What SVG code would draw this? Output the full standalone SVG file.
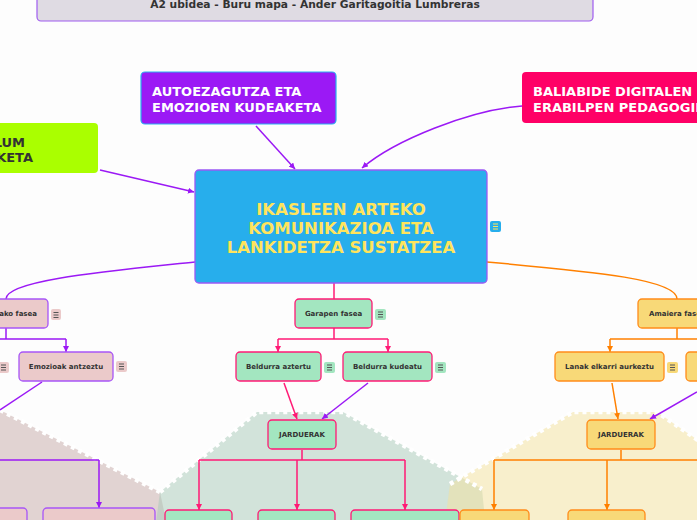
<svg xmlns="http://www.w3.org/2000/svg" width="697" height="520" viewBox="0 0 697 520">
<defs>
<style>
.t{font-family:"DejaVu Sans",Verdana,sans-serif;font-weight:bold;}
.s{font-size:7px;fill:#333;text-anchor:middle;dominant-baseline:central;}
.big{font-size:13px;fill:#fff;}
.pk{fill:#ebcaca;stroke:#a855f7;stroke-width:1.3;}
.gr{fill:#a3e6c0;stroke:#ff1a75;stroke-width:1.3;}
.yl{fill:#f8d978;stroke:#ff8c1a;stroke-width:1.3;}
.ln{fill:none;stroke-width:1.5;}
.pu{stroke:#9b19f5;}
.pi{stroke:#ff1a75;}
.or{stroke:#ff8000;}
.ic line{stroke:#555;stroke-width:1;}
.dash{fill:none;stroke:#fff;stroke-width:4.5;stroke-dasharray:4 4;}
</style>
<marker id="ap" viewBox="0 0 6 6" refX="6" refY="3" markerWidth="6" markerHeight="6" markerUnits="userSpaceOnUse" orient="auto"><path d="M0,0 L6,3 L0,6 z" fill="#9b19f5"/></marker>
<marker id="ai" viewBox="0 0 6 6" refX="6" refY="3" markerWidth="6" markerHeight="6" markerUnits="userSpaceOnUse" orient="auto"><path d="M0,0 L6,3 L0,6 z" fill="#ff1a75"/></marker>
<marker id="ao" viewBox="0 0 6 6" refX="6" refY="3" markerWidth="6" markerHeight="6" markerUnits="userSpaceOnUse" orient="auto"><path d="M0,0 L6,3 L0,6 z" fill="#ff8000"/></marker>
<g id="icon"><line x1="2.5" y1="3" x2="7.5" y2="3"/><line x1="2.5" y1="5.5" x2="7.5" y2="5.5"/><line x1="2.5" y1="8" x2="7.5" y2="8"/></g>
</defs>
<rect width="697" height="520" fill="#fdfdfd"/>

<g id="regions">
<path d="M-20,400 L0,410 L160,492 L168,530 L-20,530 Z" fill="#c5a9a7" fill-opacity="0.5"/>
<path d="M257,412 L343,412 L482,489 L486,530 L155,530 L160,492 Z" fill="#a7c9b7" fill-opacity="0.5"/>
<path d="M573,412 L657,412 L705,445 L705,530 L444,530 L450,484 Z" fill="#f3e19b" fill-opacity="0.5"/>
<path class="dash" d="M0,410 L160,492"/>
<path class="dash" d="M160,492 L257,412 L343,412 L482,489"/>
<path class="dash" d="M450,484 L573,412 L657,412 L705,445"/>
</g>

<g id="title">
<rect x="37" y="-12" width="556" height="33" rx="4" fill="#dfdbe3" stroke="#a05cf0" stroke-width="1.2"/>
<text class="t" x="315" y="8" font-size="10.7" fill="#333" text-anchor="middle">A2 ubidea - Buru mapa - Ander Garitagoitia Lumbreras</text>
</g>

<g id="connectors">
<path class="ln pu" d="M256,126 L295,169" marker-end="url(#ap)"/>
<path class="ln pu" d="M522,106 C470,110 395,140 362,168" marker-end="url(#ap)"/>
<path class="ln pu" d="M100,170 L194,192" marker-end="url(#ap)"/>
<path class="ln pu" d="M195,262 C110,271 6,280 6,299"/>
<path class="ln pi" d="M334,283 L334,299"/>
<path class="ln or" d="M487,262 C600,272 677,280 677,299"/>
<path class="ln pu" d="M6,328 L6,339 M0,339 L66,339"/>
<path class="ln pu" d="M66,339 L66,352" marker-end="url(#ap)"/>
<path class="ln pi" d="M334,328 L334,339 M278,339 L388,339"/>
<path class="ln pi" d="M278,339 L278,352" marker-end="url(#ai)"/>
<path class="ln pi" d="M388,339 L388,352" marker-end="url(#ai)"/>
<path class="ln or" d="M677,328 L677,339 M610,339 L697,339"/>
<path class="ln or" d="M610,339 L610,352" marker-end="url(#ao)"/>
<path class="ln pu" d="M42,382 L0,410"/>
<path class="ln pi" d="M284,383 L297,419" marker-end="url(#ai)"/>
<path class="ln pu" d="M368,383 L322,419" marker-end="url(#ap)"/>
<path class="ln or" d="M612,383 L618,419" marker-end="url(#ao)"/>
<path class="ln pu" d="M697,392 L650,419" marker-end="url(#ap)"/>
<path class="ln pu" d="M0,460 L99,460"/>
<path class="ln pu" d="M99,460 L99,508" marker-end="url(#ap)"/>
<path class="ln pi" d="M302,450 L302,460 M199,460 L405,460"/>
<path class="ln pi" d="M199,460 L199,510" marker-end="url(#ai)"/>
<path class="ln pi" d="M297,460 L297,510" marker-end="url(#ai)"/>
<path class="ln pi" d="M405,460 L405,510" marker-end="url(#ai)"/>
<path class="ln or" d="M621,450 L621,460 M494,460 L697,460"/>
<path class="ln or" d="M494,460 L494,510" marker-end="url(#ao)"/>
<path class="ln or" d="M607,460 L607,510" marker-end="url(#ao)"/>
</g>

<g id="autoezagutza">
<rect x="141" y="72" width="195" height="52" rx="4" fill="#9b19f5" stroke="#2ab0f0" stroke-width="1.2"/>
<text class="t big" x="152" y="96">AUTOEZAGUTZA ETA</text>
<text class="t big" x="152" y="112">EMOZIOEN KUDEAKETA</text>
</g>
<g id="baliabide">
<rect x="522" y="72" width="190" height="51" rx="4" fill="#ff0066"/>
<text class="t big" x="533" y="96">BALIABIDE DIGITALEN</text>
<text class="t big" x="533" y="112">ERABILPEN PEDAGOGIK</text>
</g>
<g id="curriculum">
<rect x="-40" y="123" width="138" height="50" rx="4" fill="#aaff00"/>
<text class="t" x="25" y="147" font-size="13" fill="#333" text-anchor="end">LUM</text>
<text class="t" x="33" y="162" font-size="13" fill="#333" text-anchor="end">KETA</text>
</g>
<g id="central">
<rect x="195" y="170" width="292" height="113" rx="4" fill="#27aeec" stroke="#9b59f5" stroke-width="1.3"/>
<g class="t" font-size="16.5" fill="#ffe45c" text-anchor="middle">
<text x="341" y="215">IKASLEEN ARTEKO</text>
<text x="341" y="234">KOMUNIKAZIOA ETA</text>
<text x="341" y="253">LANKIDETZA SUSTATZEA</text>
</g>
<rect x="490" y="221" width="11" height="11" rx="2" fill="#27aeec"/>
<use href="#icon" x="490.5" y="221" class="ic" style="stroke:#ffe45c"/>
</g>

<g id="hasiera">
<rect class="pk" x="-20" y="299" width="68" height="29" rx="4"/>
<text class="t s" x="37" y="314" style="text-anchor:end">ako fasea</text>
<rect x="51" y="309" width="10" height="11" rx="2" fill="#ebcaca"/>
<use href="#icon" x="51" y="309.5" stroke="#555"/>
</g>
<g id="left-child">
<rect x="-2" y="362" width="11" height="11" rx="2" fill="#ebcaca"/>
<use href="#icon" x="-1.5" y="362" stroke="#555"/>
</g>
<g id="emozioak">
<rect class="pk" x="19" y="352" width="94" height="29" rx="4"/>
<text class="t s" x="66" y="367">Emozioak antzeztu</text>
<rect x="116" y="361" width="11" height="11" rx="2" fill="#ebcaca"/>
<use href="#icon" x="116.5" y="361" stroke="#555"/>
</g>
<g id="garapen">
<rect class="gr" x="295" y="299" width="77" height="29" rx="4"/>
<text class="t s" x="333.5" y="314">Garapen fasea</text>
<rect x="375" y="309" width="11" height="11" rx="2" fill="#a3e6c0"/>
<use href="#icon" x="375.5" y="309" stroke="#555"/>
</g>
<g id="aztertu">
<rect class="gr" x="236" y="352" width="85" height="29" rx="4"/>
<text class="t s" x="278.5" y="367">Beldurra aztertu</text>
<rect x="324" y="362" width="11" height="11" rx="2" fill="#a3e6c0"/>
<use href="#icon" x="324.5" y="362" stroke="#555"/>
</g>
<g id="kudeatu">
<rect class="gr" x="343" y="352" width="89" height="29" rx="4"/>
<text class="t s" x="387.5" y="367">Beldurra kudeatu</text>
<rect x="435" y="362" width="11" height="11" rx="2" fill="#a3e6c0"/>
<use href="#icon" x="435.5" y="362" stroke="#555"/>
</g>
<g id="jarduerak-g">
<rect class="gr" x="268" y="420" width="68" height="29" rx="4"/>
<text class="t s" x="302" y="435">JARDUERAK</text>
</g>
<g id="g1"><rect class="gr" x="165" y="510" width="67" height="24" rx="4"/></g>
<g id="g2"><rect class="gr" x="258" y="510" width="77" height="24" rx="4"/></g>
<g id="g3"><rect class="gr" x="351" y="510" width="108" height="24" rx="4"/></g>
<g id="p1"><rect class="pk" x="-20" y="508" width="47" height="24" rx="4"/></g>
<g id="p2"><rect class="pk" x="43" y="508" width="112" height="24" rx="4"/></g>

<g id="amaiera">
<rect class="yl" x="638" y="299" width="80" height="29" rx="4"/>
<text class="t s" x="649" y="314" style="text-anchor:start">Amaiera fase</text>
</g>
<g id="lanak">
<rect class="yl" x="555" y="352" width="109" height="29" rx="4"/>
<text class="t s" x="609.5" y="367">Lanak elkarri aurkeztu</text>
<rect x="667" y="362" width="11" height="11" rx="2" fill="#f8d978"/>
<use href="#icon" x="667.5" y="362" stroke="#555"/>
</g>
<g id="right-child"><rect class="yl" x="686" y="352" width="40" height="29" rx="4"/></g>
<g id="jarduerak-y">
<rect class="yl" x="587" y="420" width="68" height="29" rx="4"/>
<text class="t s" x="621" y="435">JARDUERAK</text>
</g>
<g id="y1"><rect class="yl" x="460" y="510" width="69" height="24" rx="4"/></g>
<g id="y2"><rect class="yl" x="568" y="510" width="77" height="24" rx="4"/></g>
</svg>
